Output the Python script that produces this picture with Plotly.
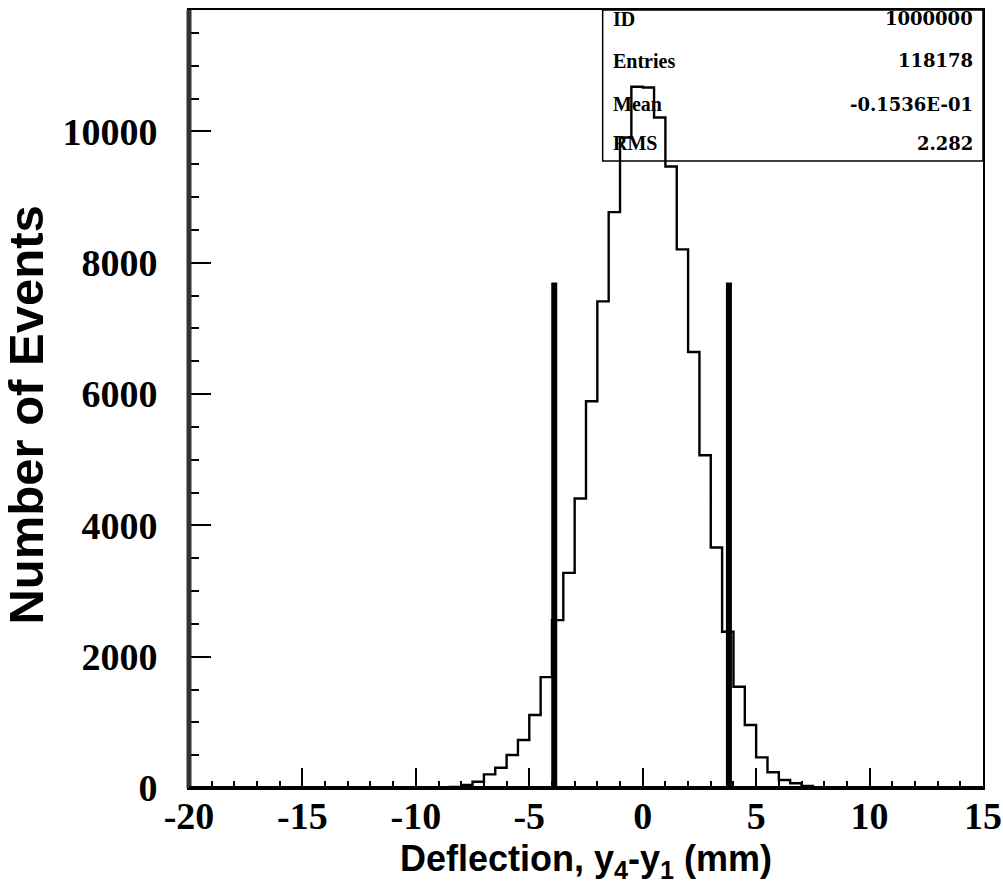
import plotly.graph_objects as go

# ---- data ----
bin_edges = [-8.5, -8.0, -7.5, -7.0, -6.5, -6.0, -5.5, -5.0, -4.5, -4.0, -3.5, -3.0,
             -2.5, -2.0, -1.5, -1.0, -0.5, 0.0, 0.5, 1.0, 1.5, 2.0, 2.5, 3.0,
             3.5, 4.0, 4.5, 5.0, 5.5, 6.0, 6.5, 7.0, 7.5]
counts = [15, 46, 96, 208, 309, 502, 731, 1111, 1689, 2557, 3277, 4409,
          5890, 7412, 8772, 9909, 10680, 10670, 10213, 9467, 8204, 6641, 5068, 3664,
          2379, 1542, 959, 467, 239, 122, 72, 30]
cut_positions = [-3.9, 3.8]
cut_height = 7700

stat_labels = ["ID", "Entries", "Mean", "RMS"]
stat_values = ["1000000", "118178", "-0.1536E-01", "2.282"]
stat_rows_y = [0.989, 0.935, 0.879, 0.829]

x_range = [-20, 15]
y_range = [0, 11850]
x_ticks = [-20, -15, -10, -5, 0, 5, 10, 15]
x_ticktext = ["-20", "-15", "-10", "-5", "0", "5", "10", "15"]
y_ticks = [0, 2000, 4000, 6000, 8000, 10000]
y_ticktext = ["0", "2000", "4000", "6000", "8000", "10000"]

# ---- figure ----
fig = go.Figure()

step_x = [bin_edges[0]] + bin_edges
step_y = [0] + counts + [0]
fig.add_trace(go.Scatter(x=step_x, y=step_y, mode="lines", line_shape="hv",
                         line=dict(color="black", width=2.4), showlegend=False,
                         hoverinfo="skip"))

for c in cut_positions:
    fig.add_trace(go.Scatter(x=[c, c], y=[0, cut_height], mode="lines",
                             line=dict(color="black", width=6), showlegend=False,
                             hoverinfo="skip"))

serif_tick = dict(family="Liberation Serif", size=38, color="black", weight="bold")

fig.update_layout(
    width=1003, height=893,
    margin=dict(l=189, r=20, t=10, b=105),
    paper_bgcolor="white", plot_bgcolor="white",
    xaxis=dict(range=x_range, tickvals=x_ticks, ticktext=x_ticktext, ticks="inside",
               ticklen=20, tickwidth=2, automargin=False,
               tickcolor="black", showgrid=False, zeroline=False, showline=True,
               linecolor="black", linewidth=2, mirror=True,
               minor=dict(dtick=1, ticks="inside", ticklen=7, tickwidth=2, tickcolor="black"),
               tickfont=serif_tick, ticklabelstandoff=-7),
    yaxis=dict(range=y_range, tickvals=y_ticks, ticktext=y_ticktext, ticks="inside",
               ticklen=22, automargin=False,
               tickwidth=2, tickcolor="black", showgrid=False, zeroline=False, showline=True,
               linecolor="black", linewidth=2, mirror=True,
               minor=dict(dtick=500, ticks="inside", ticklen=10, tickwidth=2, tickcolor="black"),
               tickfont=serif_tick, ticklabelstandoff=22),
)

# thick left and bottom frame lines
fig.add_shape(type="line", xref="paper", yref="paper", x0=0, x1=0, y0=0, y1=1,
              line=dict(color="#333333", width=5))
fig.add_shape(type="line", xref="paper", yref="paper", x0=0, x1=1, y0=0, y1=0,
              line=dict(color="black", width=4))

# stats box
fig.add_shape(type="rect", xref="paper", yref="paper", x0=0.521, x1=1.0, y0=0.806, y1=1.0,
              line=dict(color="black", width=1.5), fillcolor="rgba(0,0,0,0)")
for lab, val, yy in zip(stat_labels, stat_values, stat_rows_y):
    fig.add_annotation(xref="paper", yref="paper", x=0.532, y=yy, text=lab, showarrow=False,
                       xanchor="left", yanchor="middle",
                       font=dict(family="Liberation Serif", size=20, color="black", weight="bold"))
    fig.add_annotation(xref="paper", yref="paper", x=0.99, y=yy, text=val, showarrow=False,
                       xanchor="right", yanchor="middle",
                       font=dict(family="DejaVu Serif", size=18, color="black", weight="bold"))

# axis titles
fig.add_annotation(xref="paper", yref="paper", x=0.5, y=-0.062, yanchor="top",
                   text="Deflection, y<sub>4</sub>-y<sub>1</sub> (mm)", showarrow=False,
                   font=dict(family="Liberation Sans", size=36, color="black", weight="bold"))
fig.add_annotation(xref="paper", yref="paper", x=-0.205, y=0.479, textangle=-90,
                   xanchor="center", yanchor="middle",
                   text="Number of Events", showarrow=False,
                   font=dict(family="Liberation Sans", size=49, color="black", weight="bold"))

fig.write_html("out.html")
